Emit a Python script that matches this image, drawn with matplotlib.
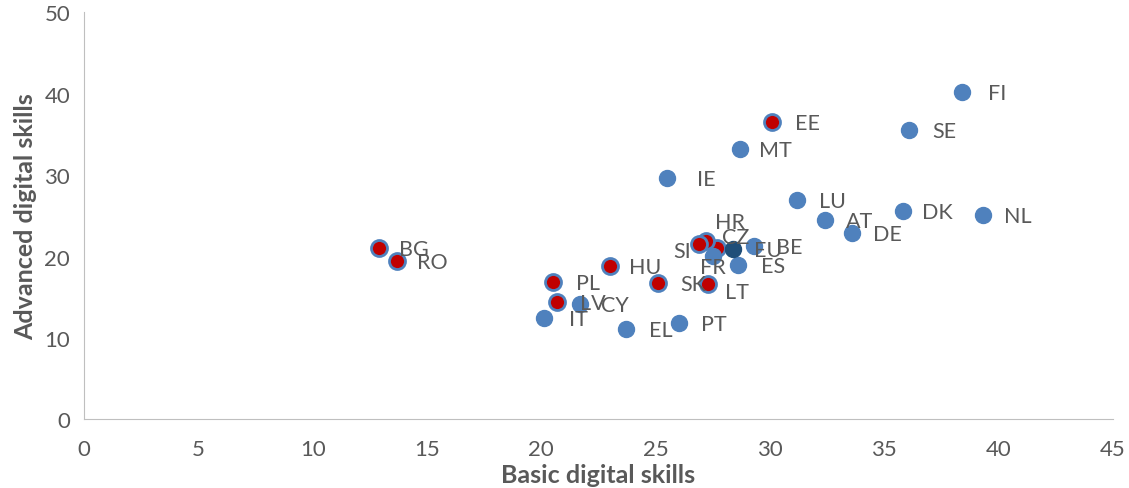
import matplotlib.pyplot as plt

# data
countries = ['FI', 'SE', 'EE', 'MT', 'IE', 'LU', 'AT', 'DE', 'DK', 'NL',
             'BE', 'CZ', 'HR', 'SI', 'FR', 'ES', 'LT', 'SK', 'HU', 'PL',
             'LV', 'CY', 'IT', 'EL', 'PT', 'BG', 'RO', 'EU']
basic = [38.4, 36.1, 30.1, 28.7, 25.5, 31.2, 32.4, 33.6, 35.8, 39.3,
         29.3, 27.7, 27.2, 26.9, 27.5, 28.6, 27.3, 25.1, 23.0, 20.5,
         20.7, 21.7, 20.1, 23.7, 26.0, 12.9, 13.7, 28.4]
advanced = [40.2, 35.6, 36.6, 33.2, 29.7, 27.0, 24.5, 22.9, 25.6, 25.1,
            21.3, 21.1, 21.9, 21.5, 20.1, 19.0, 16.6, 16.8, 18.9, 16.9,
            14.4, 14.2, 12.5, 11.1, 11.9, 21.1, 19.5, 20.9]
highlight = ['EE', 'CZ', 'HR', 'SI', 'LT', 'SK', 'HU', 'PL', 'LV', 'BG', 'RO']

# label offsets in pixels (dx, dy), default right of the point
label_offsets = {'CZ': (18, 11), 'HR': (24, 19), 'SI': (-17, -7), 'FR': (0, -11),
                 'LT': (29, -8), 'IE': (39, -1)}

plt.rcParams['font.family'] = ['Lato', 'DejaVu Sans']
txt = '#595959'
blue = '#4F81BD'

fig = plt.figure(figsize=(11.29, 4.89), dpi=100)
ax = fig.add_axes([0.0744, 0.1401, 0.9114, 0.8323])

for c, x, y in zip(countries, basic, advanced):
    if c == 'EU':
        fc, ec = '#1F4E79', '#1F4E79'
    elif c in highlight:
        fc, ec = '#C00000', blue
    else:
        fc, ec = blue, blue
    ax.plot(x, y, 'o', ms=11.5, mfc=fc, mec=ec, mew=2 if c in highlight else 1, zorder=3)
    dx, dy = label_offsets.get(c, (35, -1))
    ax.annotate(c, (x, y), xytext=(dx, dy), textcoords='offset pixels',
                ha='center', va='center', fontsize=15.5, color=txt, zorder=4)

ax.set_xlim(0, 45)
ax.set_ylim(0, 50)
ax.set_xticks(range(0, 46, 5))
ax.set_yticks(range(0, 51, 10))
ax.tick_params(length=0, labelsize=16, colors=txt, pad=14)
ax.tick_params(axis='y', pad=10)
for s in ['top', 'right']:
    ax.spines[s].set_visible(False)
for s in ['left', 'bottom']:
    ax.spines[s].set_color('#BFBFBF')

ax.set_xlabel('Basic digital skills', fontsize=18, fontweight='bold', color=txt, labelpad=3)
ax.set_ylabel('Advanced digital skills', fontsize=18, fontweight='bold', color=txt, labelpad=5)

fig.savefig('out.png', dpi=100)
